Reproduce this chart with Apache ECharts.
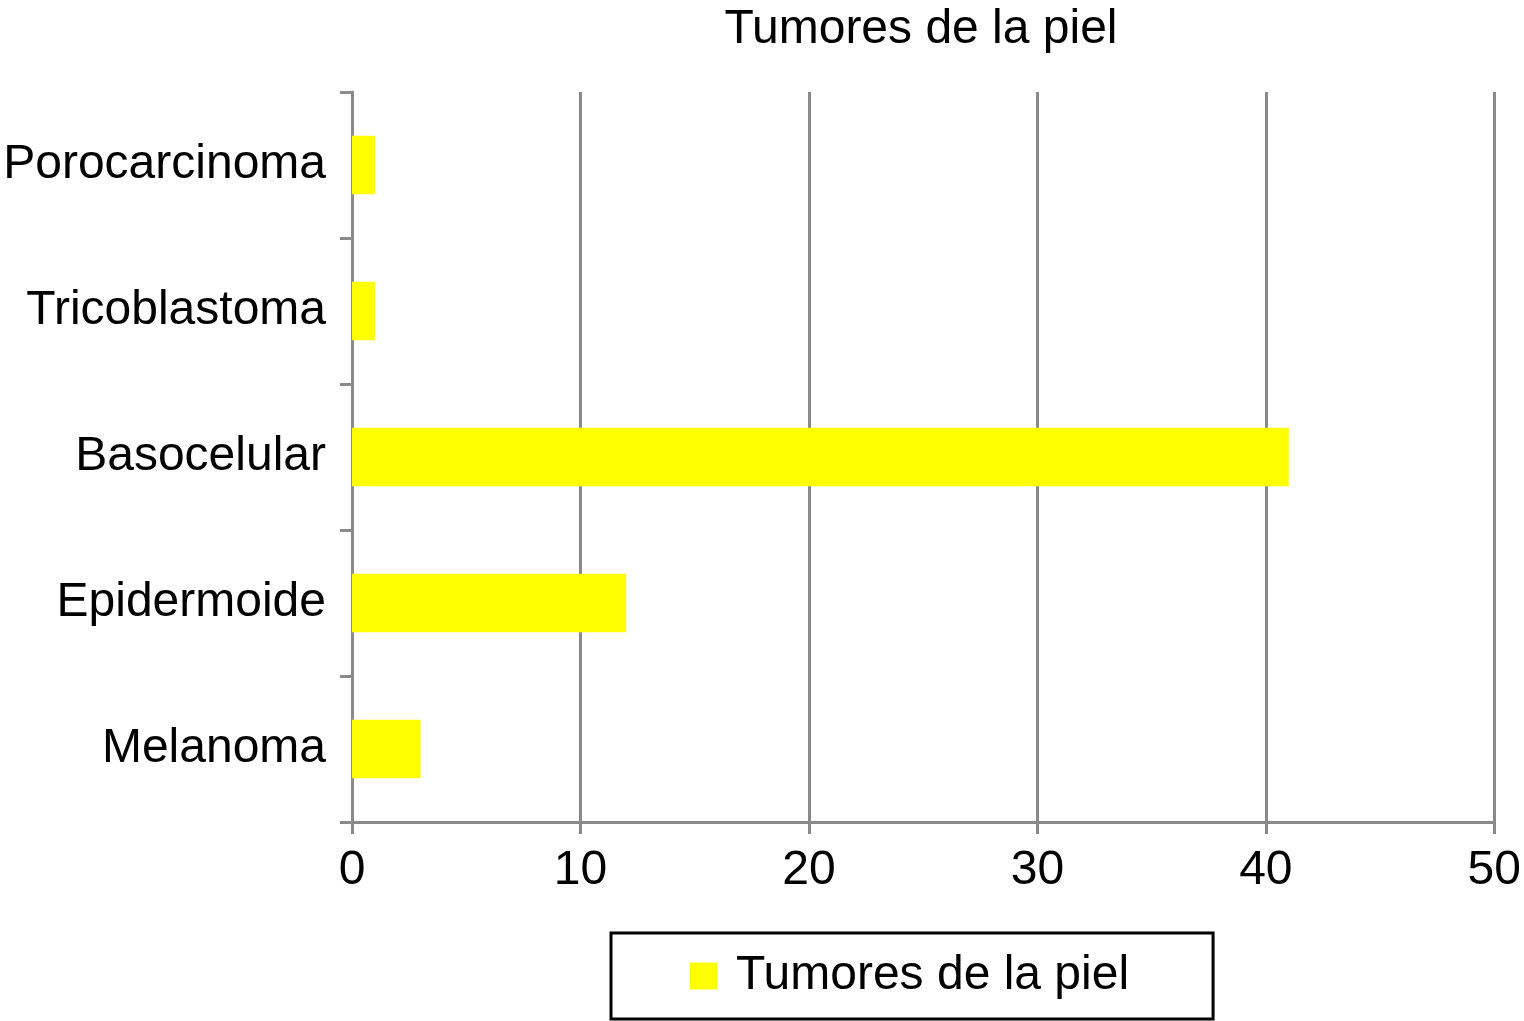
<!DOCTYPE html>
<html><head><meta charset="utf-8">
<script src="https://cdn.jsdelivr.net/npm/echarts@6/dist/echarts.min.js"></script>
<style>html,body{margin:0;padding:0;background:#fff}#c{width:1524px;height:1021px}</style>
</head><body><div id="c"></div>
<script>
const categories = ['Melanoma','Epidermoide','Basocelular','Tricoblastoma','Porocarcinoma'];
const values = [3, 12, 41, 1, 1];
const seriesName = 'Tumores de la piel';
const xTicks = {min: 0, max: 50, interval: 10};

const font = '"Liberation Sans", Arial, Helvetica, sans-serif';
const gray = '#8a8a8a';
const chart = echarts.init(document.getElementById('c'), null, {renderer: 'canvas'});
chart.setOption({
  animation: false,
  title: {text: seriesName, left: 916, top: 1, textAlign: 'center',
    textStyle: {fontFamily: font, fontSize: 48, fontWeight: 'normal', color: '#000'}},
  legend: {data: [seriesName], left: 611, top: 933, padding: [19, 84, 19, 79],
    borderColor: '#000', borderWidth: 3, itemWidth: 27, itemHeight: 27, itemGap: 0,
    icon: 'rect',
    textStyle: {fontFamily: font, fontSize: 48, color: '#000', padding: [0, 0, 0, 14]}},
  grid: {left: 352, right: 29, top: 92, bottom: 199, containLabel: false},
  xAxis: {type: 'value', min: xTicks.min, max: xTicks.max, interval: xTicks.interval,
    axisLine: {show: true, lineStyle: {color: gray, width: 3}},
    axisTick: {show: true, length: 12, lineStyle: {color: gray, width: 3}},
    splitLine: {show: true, lineStyle: {color: gray, width: 3}},
    axisLabel: {fontFamily: font, fontSize: 48, color: '#000', margin: 25}},
  yAxis: {type: 'category', data: categories,
    axisLine: {show: true, lineStyle: {color: gray, width: 3}},
    axisTick: {show: true, length: 12, alignWithLabel: false, lineStyle: {color: gray, width: 3}},
    axisLabel: {fontFamily: font, fontSize: 48, color: '#000', margin: 26}},
  series: [{name: seriesName, type: 'bar', data: values, barWidth: '40%',
    itemStyle: {color: '#ffff00'}}]
});
</script></body></html>
